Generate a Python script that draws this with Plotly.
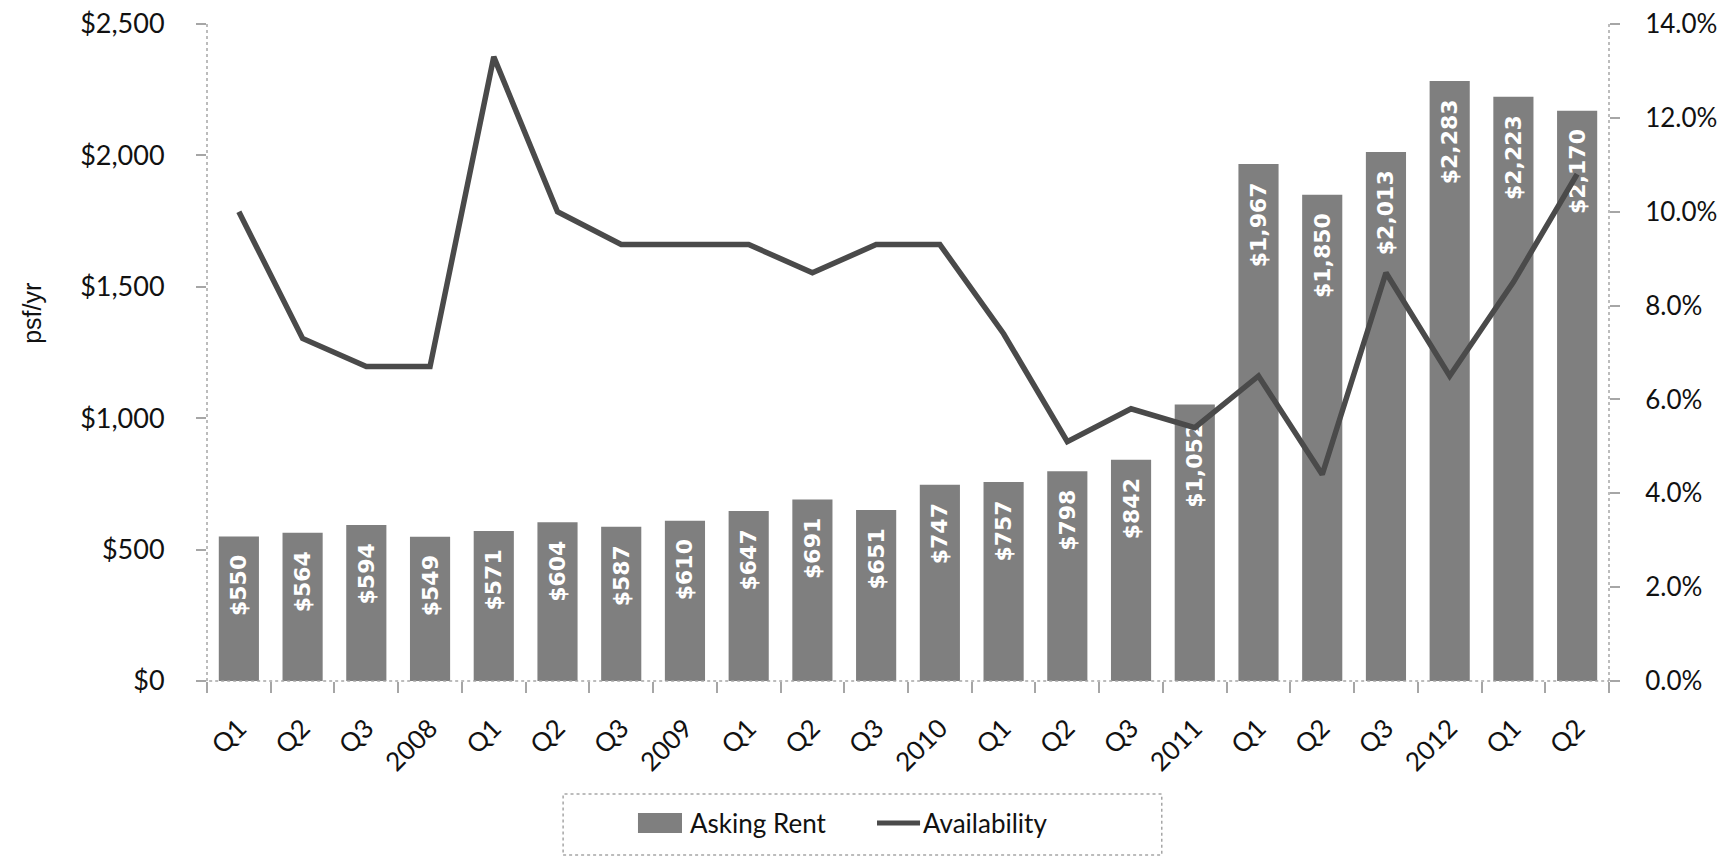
import plotly.graph_objects as go

# Quarterly periods (year labels mark the Q4 reading of each year)
periods = ["Q1", "Q2", "Q3", "2008", "Q1", "Q2", "Q3", "2009",
           "Q1", "Q2", "Q3", "2010", "Q1", "Q2", "Q3", "2011",
           "Q1", "Q2", "Q3", "2012", "Q1", "Q2"]

# Asking rent, $ per sq ft per year
asking_rent = [550, 564, 594, 549, 571, 604, 587, 610, 647, 691, 651,
               747, 757, 798, 842, 1052, 1967, 1850, 2013, 2283, 2223, 2170]

# Availability rate, percent
availability_pct = [10.0, 7.3, 6.7, 6.7, 13.3, 10.0, 9.3, 9.3, 9.3, 8.7, 9.3,
                    9.3, 7.4, 5.1, 5.8, 5.4, 6.5, 4.4, 8.7, 6.5, 8.5, 10.8]

x = list(range(len(periods)))
availability = [v / 100 for v in availability_pct]
boundaries = [i - 0.5 for i in range(len(periods) + 1)]

FONT = "Lato"
AXIS_GREY = "#a6a6a6"
BAR_GREY = "#7f7f7f"
LINE_GREY = "#4a4a4a"

fig = go.Figure()

fig.add_trace(go.Bar(
    x=x, y=asking_rent, name="Asking Rent",
    marker=dict(color=BAR_GREY, line=dict(width=0)),
    texttemplate="$%{y:,.0f}\u00a0\u00a0",
    textposition="inside", insidetextanchor="end", textangle=-90,
    textfont=dict(family="DejaVu Sans", size=22, color="white", weight="bold"),
    constraintext="none",
    hoverinfo="skip", showlegend=False,
))

fig.add_trace(go.Scatter(
    x=x, y=availability, name="Availability", yaxis="y2",
    mode="lines", line=dict(color=LINE_GREY, width=5.5),
    hoverinfo="skip", showlegend=False,
))

fig.update_layout(
    width=1731, height=859,
    margin=dict(l=207, r=122, t=24, b=178, autoexpand=False),
    paper_bgcolor="white", plot_bgcolor="white",
    font=dict(family=FONT, size=26, color="#111111"),
    bargap=0.37,
    xaxis=dict(
        range=[-0.5, len(periods) - 0.5],
        tickvals=x, ticktext=periods, tickangle=-45,
        ticks="", showgrid=False, zeroline=False, showline=False,
        ticklabelstandoff=26,
        tickfont=dict(family=FONT, size=26, color="#111111"),
        minor=dict(tickvals=boundaries, ticks="outside", ticklen=11,
                   tickcolor=AXIS_GREY, tickwidth=1.5, showgrid=False),
    ),
    yaxis=dict(
        range=[0, 2500], dtick=500, tickprefix="$", tickformat=",",
        ticks="outside", ticklen=10, tickcolor=AXIS_GREY, tickwidth=1.5,
        showgrid=False, zeroline=False, showline=False,
        ticklabelstandoff=26,
        tickfont=dict(family=FONT, size=27, color="#111111"),
    ),
    yaxis2=dict(
        overlaying="y", side="right",
        range=[0, 0.14], dtick=0.02, tickformat=".1%",
        ticks="outside", ticklen=10, tickcolor=AXIS_GREY, tickwidth=1.5,
        showgrid=False, zeroline=False, showline=False,
        ticklabelstandoff=20,
        tickfont=dict(family=FONT, size=26, color="#111111"),
    ),
)

# Dotted axis lines
dot = dict(color=AXIS_GREY, width=1.5, dash="dot")
fig.add_shape(type="line", xref="paper", yref="paper", x0=0, x1=0, y0=0, y1=1, line=dot)
fig.add_shape(type="line", xref="paper", yref="paper", x0=1, x1=1, y0=0, y1=1, line=dot)
fig.add_shape(type="line", xref="paper", yref="paper", x0=-0.007, x1=1, y0=0, y1=0, line=dot)

# Legend: dotted frame, wide swatch for the bars, short stroke for the line
fig.add_shape(type="rect", xref="paper", yref="paper",
              x0=0.254, x1=0.681, y0=-0.265, y1=-0.172, line=dot)
fig.add_shape(type="rect", xref="paper", yref="paper",
              x0=0.3074, x1=0.3388, y0=-0.2314, y1=-0.2009,
              fillcolor=BAR_GREY, line=dict(width=0))
fig.add_shape(type="line", xref="paper", yref="paper",
              x0=0.4779, x1=0.5086, y0=-0.2161, y1=-0.2161,
              line=dict(color=LINE_GREY, width=5))
fig.add_annotation(text="Asking Rent", xref="paper", yref="paper",
                   x=0.3431, y=-0.2161, xanchor="left", yanchor="middle",
                   showarrow=False, font=dict(family=FONT, size=26, color="#111111"))
fig.add_annotation(text="Availability", xref="paper", yref="paper",
                   x=0.5093, y=-0.2161, xanchor="left", yanchor="middle",
                   showarrow=False, font=dict(family=FONT, size=26, color="#111111"))

fig.add_annotation(
    text="psf/yr", xref="paper", yref="paper", x=-0.125, y=0.56,
    xanchor="center", yanchor="middle",
    textangle=-90, showarrow=False,
    font=dict(family="Liberation Sans", size=25, color="#111111"),
)

fig.write_html("out.html")
